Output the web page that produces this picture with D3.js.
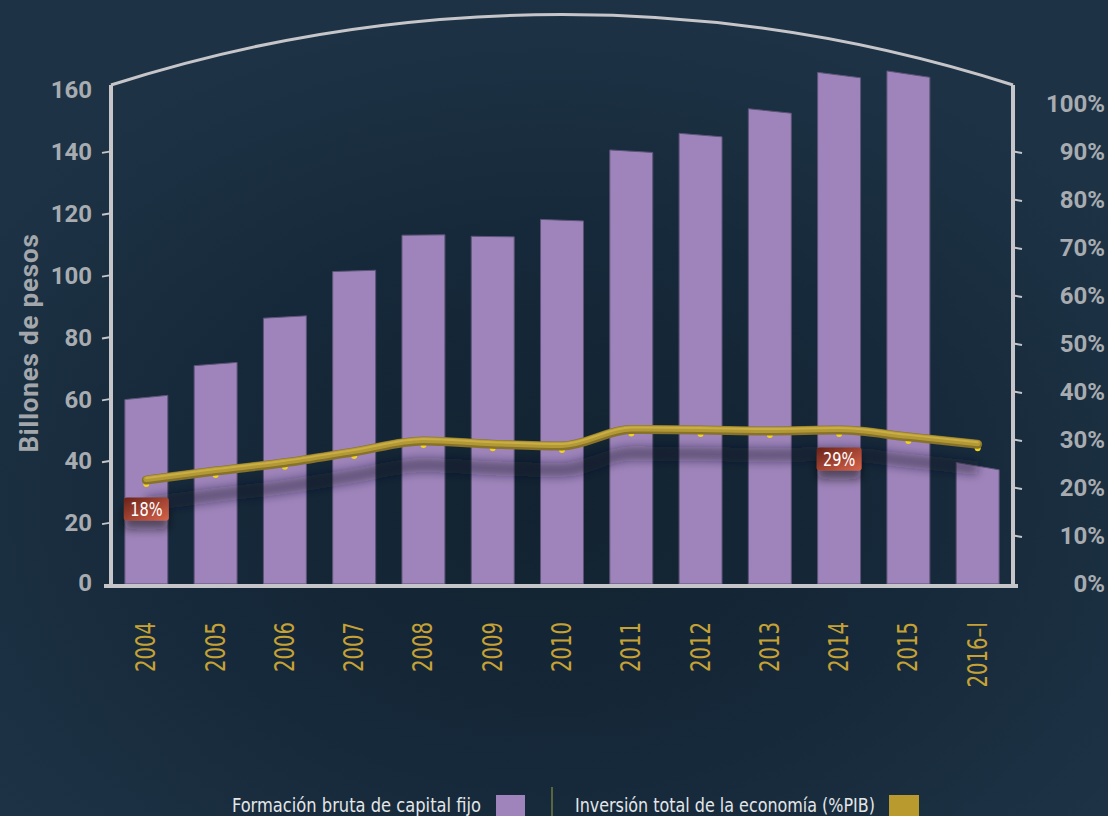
<!DOCTYPE html>
<html>
<head>
<meta charset="utf-8">
<script src="https://cdn.jsdelivr.net/npm/d3@7"></script>
<style>
  html, body { margin: 0; padding: 0; background: #1c3243; }
  svg { display: block; }
</style>
</head>
<body>
<svg id="chart" width="1108" height="816"></svg>
<script>
// Years on the horizontal axis
const years = ["2004", "2005", "2006", "2007", "2008", "2009", "2010", "2011", "2012", "2013", "2014", "2015", "2016–I"];
// Formación bruta de capital fijo, billones de pesos
const capitalFormation = [60.3, 71.1, 86.3, 101.2, 112.8, 112.3, 117.6, 139.9, 145.1, 152.9, 164.5, 164.8, 38.1];
// Inversión total de la economía, % del PIB
const investmentShare = [18, 20, 21.8, 24.2, 26.6, 25.9, 25.5, 29.1, 29, 28.8, 29, 27.5, 25.9];
// Years whose share is called out in a label box
const calloutYears = ["2004", "2014"];
// Axis ticks
const leftTicks = [0, 20, 40, 60, 80, 100, 120, 140, 160];
const rightTicks = [0, 10, 20, 30, 40, 50, 60, 70, 80, 90, 100];
// Legend entries
const legendLabels = ["Formación bruta de capital fijo", "Inversión total de la economía (%PIB)"];

const W = 1108, H = 816;
const plot = { left: 111, right: 1013, top: 85, bottom: 586 };

const svg = d3.select("#chart");
const defs = svg.append("defs");

// background glow
const bg = defs.append("radialGradient").attr("id", "bgGrad")
  .attr("cx", 0.5).attr("cy", 0.62).attr("r", 0.62);
bg.append("stop").attr("offset", "0%").attr("stop-color", "#122230");
bg.append("stop").attr("offset", "55%").attr("stop-color", "#16293a");
bg.append("stop").attr("offset", "100%").attr("stop-color", "#1d3345");

const boxGrad = defs.append("linearGradient").attr("id", "boxGrad")
  .attr("x1", 0).attr("y1", 0).attr("x2", 1).attr("y2", 1);
boxGrad.append("stop").attr("offset", "0%").attr("stop-color", "#6a2219");
boxGrad.append("stop").attr("offset", "100%").attr("stop-color", "#d8644b");

const blur = defs.append("filter").attr("id", "blurShadow")
  .attr("x", "-10%").attr("y", "-100%").attr("width", "120%").attr("height", "300%");
blur.append("feGaussianBlur").attr("stdDeviation", 5);

const boxShadow = defs.append("filter").attr("id", "boxShadow")
  .attr("x", "-50%").attr("y", "-50%").attr("width", "200%").attr("height", "250%");
boxShadow.append("feDropShadow").attr("dx", 0).attr("dy", 9).attr("stdDeviation", 5)
  .attr("flood-color", "#0a0f18").attr("flood-opacity", 0.55);

svg.append("rect").attr("width", W).attr("height", H).attr("fill", "url(#bgGrad)");

// scales
const x = d3.scaleBand().domain(years).range([plot.left, plot.right])
  .paddingInner(0.38).paddingOuter(0.2);
const yLeft = d3.scaleLinear().domain([0, 160]).range([584, 89]);
const yRight = d3.scaleLinear().domain([0, 100]).range([583, 103]);
// the investment line is drawn on its own vertical scale
const yShare = d3.scaleLinear().domain([0, 100]).range([562, 107]);

const bw = x.bandwidth();
const midX = 450;

// bars with a slight perspective tilt on their tops
const bars = years.map((yr, i) => ({ year: yr, value: capitalFormation[i] }));
svg.append("g").selectAll("path").data(bars).join("path")
  .attr("d", d => {
    const x0 = x(d.year), x1 = x0 + bw, xc = x0 + bw / 2;
    const top = yLeft(d.value);
    const tilt = (xc - midX) * 0.014;
    const b = yLeft(0);
    return `M${x0},${b}L${x0},${top - tilt / 2}L${x1},${top + tilt / 2}L${x1},${b}Z`;
  })
  .attr("fill", "#9e84ba")
  .attr("stroke", "#5d5478")
  .attr("stroke-width", 1);

// line
const pts = years.map((yr, i) => ({ year: yr, value: investmentShare[i] }));
const line = d3.line()
  .x(d => x(d.year) + bw / 2)
  .y(d => yShare(d.value))
  .curve(d3.curveMonotoneX);

// soft shadow cast below the line
svg.append("path").datum(pts)
  .attr("d", line)
  .attr("transform", "translate(0,24)")
  .attr("fill", "none")
  .attr("stroke", "#1b1a2c")
  .attr("stroke-opacity", 0.45)
  .attr("stroke-width", 14)
  .attr("filter", "url(#blurShadow)");

// data points, peeking out under the tube
svg.append("g").selectAll("circle").data(pts).join("circle")
  .attr("cx", d => x(d.year) + bw / 2)
  .attr("cy", d => yShare(d.value) + 4)
  .attr("r", 3)
  .attr("fill", "#f3d41c");

// tube
const tube = svg.append("g");
tube.append("path").datum(pts).attr("d", line)
  .attr("fill", "none").attr("stroke", "#86722a").attr("stroke-width", 9)
  .attr("stroke-linecap", "round").attr("stroke-linejoin", "round");
tube.append("path").datum(pts).attr("d", line)
  .attr("transform", "translate(0,-1)")
  .attr("fill", "none").attr("stroke", "#b39836").attr("stroke-width", 6)
  .attr("stroke-linecap", "round");
tube.append("path").datum(pts).attr("d", line)
  .attr("transform", "translate(0,-2)")
  .attr("fill", "none").attr("stroke", "#c9ae45").attr("stroke-width", 2)
  .attr("stroke-linecap", "round");

const narrow = "'DejaVu Sans Condensed', 'DejaVu Sans', sans-serif";

// callout boxes
const callouts = pts.filter(d => calloutYears.includes(d.year));
const cg = svg.append("g").selectAll("g").data(callouts).join("g")
  .attr("transform", d => `translate(${x(d.year) + bw / 2},${yShare(d.value) + 29})`);
cg.append("rect")
  .attr("x", -22.5).attr("y", -11.5).attr("width", 45).attr("height", 23).attr("rx", 3)
  .attr("fill", "url(#boxGrad)")
  .attr("filter", "url(#boxShadow)");
cg.append("text")
  .attr("text-anchor", "middle").attr("dy", "0.36em")
  .attr("transform", "scale(0.85,1)")
  .attr("fill", "#ffffff")
  .style("font-family", narrow)
  .style("font-size", "19px")
  .text(d => d.value + "%");

// frame: arc over the top and the two vertical axes
const frameColor = "#c6c6ca";
const halfChord = (plot.right - plot.left) / 2, sag = 70.5;
const R = (halfChord * halfChord + sag * sag) / (2 * sag);
svg.append("path")
  .attr("d", `M${plot.left},${plot.top}A${R},${R} 0 0 1 ${plot.right},${plot.top}`)
  .attr("fill", "none").attr("stroke", frameColor).attr("stroke-width", 3);

const tickFont = "Roboto, 'Noto Sans', sans-serif";

// left axis
const gl = svg.append("g").attr("transform", `translate(${plot.left},0)`)
  .call(d3.axisLeft(yLeft).tickValues(leftTicks).tickSize(9).tickSizeOuter(0));
gl.select(".domain").remove();
gl.selectAll(".tick line").attr("stroke", frameColor).attr("stroke-width", 2)
  .attr("y2", 1.5)
  .style("display", d => (d === 0 || d === 160) ? "none" : null);
gl.selectAll(".tick text")
  .attr("x", -19).attr("dy", "0.36em")
  .attr("fill", "#a8acb1")
  .style("font-family", tickFont).style("font-weight", 700).style("font-size", "24px")
  .attr("y", d => d === 0 ? -2 : 0);

// right axis
const gr = svg.append("g").attr("transform", `translate(${plot.right},0)`)
  .call(d3.axisRight(yRight).tickValues(rightTicks).tickSize(9).tickSizeOuter(0)
    .tickFormat(d => d + "%"));
gr.select(".domain").remove();
gr.selectAll(".tick line").attr("stroke", frameColor).attr("stroke-width", 2)
  .attr("y2", 1.5)
  .style("display", d => (d === 0 || d === 100) ? "none" : null);
gr.selectAll(".tick text")
  .attr("x", 92).attr("dy", "0.36em").attr("text-anchor", "end")
  .attr("fill", "#a8acb1")
  .style("font-family", tickFont).style("font-weight", 700).style("font-size", "24px");

// axis lines
svg.append("line").attr("x1", plot.left).attr("x2", plot.left)
  .attr("y1", plot.top).attr("y2", plot.bottom)
  .attr("stroke", frameColor).attr("stroke-width", 4);
svg.append("line").attr("x1", plot.right).attr("x2", plot.right)
  .attr("y1", plot.top).attr("y2", plot.bottom)
  .attr("stroke", frameColor).attr("stroke-width", 4);
svg.append("line").attr("x1", plot.left - 7).attr("x2", plot.right + 5)
  .attr("y1", plot.bottom).attr("y2", plot.bottom)
  .attr("stroke", frameColor).attr("stroke-width", 4);

// left axis title
svg.append("text")
  .attr("transform", "translate(38,343) rotate(-90)")
  .attr("text-anchor", "middle")
  .attr("fill", "#a3a7ac")
  .style("font-family", tickFont).style("font-weight", 700).style("font-size", "26px")
  .style("letter-spacing", "0.8px")
  .text("Billones de pesos");

// year labels, set in a condensed face
svg.append("g").selectAll("text").data(years).join("text")
  .attr("transform", d => `translate(${x(d) + bw / 2 + 9},622) rotate(-90) scale(0.84,1)`)
  .attr("text-anchor", "end")
  .attr("fill", "#c6a235")
  .style("font-family", narrow).style("font-size", "26px")
  .text(d => d);

// legend
const lg = svg.append("g");
lg.append("text").attr("transform", "translate(481,812) scale(0.93,1)").attr("text-anchor", "end")
  .attr("fill", "#e4e6e8").style("font-family", narrow).style("font-size", "19.5px")
  .text(legendLabels[0]);
lg.append("rect").attr("x", 496).attr("y", 795).attr("width", 29).attr("height", 22)
  .attr("fill", "#9e84ba");
lg.append("line").attr("x1", 552).attr("x2", 552).attr("y1", 787).attr("y2", 816)
  .attr("stroke", "#9aa53c").attr("stroke-width", 1);
lg.append("text").attr("transform", "translate(575,812) scale(0.91,1)").attr("text-anchor", "start")
  .attr("fill", "#e4e6e8").style("font-family", narrow).style("font-size", "19.5px")
  .text(legendLabels[1]);
lg.append("rect").attr("x", 889).attr("y", 795).attr("width", 30).attr("height", 22)
  .attr("fill", "#b89a2f");
</script>
</body>
</html>
